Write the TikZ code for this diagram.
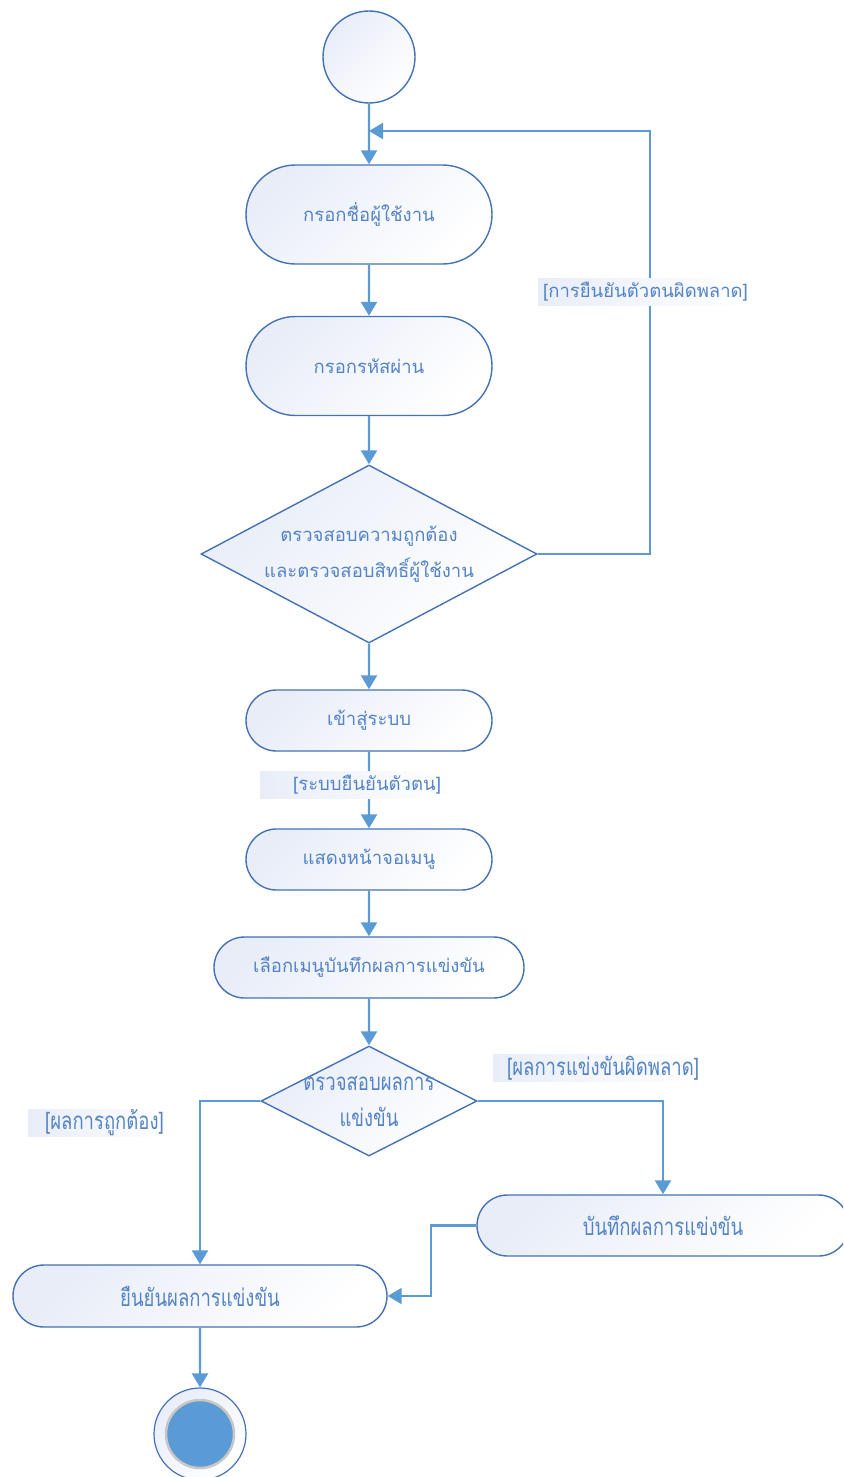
\documentclass[tikz,border=0pt]{standalone}
\usepackage{fontspec}
\usepackage{graphicx}
\usetikzlibrary{shapes.misc,shapes.geometric,arrows.meta}
\newfontfamily\thaifont[Script=Thai]{Loma}
\definecolor{lineblue}{RGB}{91,155,213}
\definecolor{edgeblue}{RGB}{68,114,180}
\definecolor{textblue}{RGB}{84,132,198}
\definecolor{shadeblue}{RGB}{232,237,248}
\newcommand{\tallthai}[1]{\scalebox{1}[1.3]{#1}}

\tikzset{
  activity/.style={rounded rectangle, draw=edgeblue, line width=1.4pt, top color=shadeblue, bottom color=white, shading angle=45, text=textblue, font=\thaifont\fontsize{18.5}{22}\selectfont, inner sep=0pt},
  decision/.style={diamond, draw=edgeblue, line width=1.4pt, top color=shadeblue, bottom color=white, shading angle=45, text=textblue, font=\thaifont\fontsize{18.5}{36}\selectfont, inner sep=0pt, align=center},
  guard/.style={anchor=west, inner xsep=0pt, inner ysep=0pt, minimum height=27pt, left color=shadeblue, right color=white, text=textblue, font=\thaifont\fontsize{18.5}{22}\selectfont},
  flow/.style={draw=lineblue, line width=2.4pt, -{Triangle[length=14pt,width=16pt]}}
}

\begin{document}
\begin{tikzpicture}[x=1pt, y=-1pt]
  \path[use as bounding box, clip] (0,0) rectangle (843,1477);

  % start node
  \node[circle, draw=edgeblue, line width=1.4pt, minimum size=92pt, top color=shadeblue, bottom color=white, shading angle=45] (start) at (369,57) {};

  % login steps
  \node[activity, minimum width=246pt, minimum height=99pt] (user) at (369,214.5) {กรอกชื่อผู้ใช้งาน};
  \node[activity, minimum width=246pt, minimum height=99pt] (pass) at (369,366) {กรอกรหัสผ่าน};
  \node[decision, minimum width=336pt, minimum height=178pt, aspect=1.89] (auth) at (369,554) {ตรวจสอบความถูกต้อง\\และตรวจสอบสิทธิ์ผู้ใช้งาน};
  \node[activity, minimum width=246pt, minimum height=61pt] (enter) at (369,720.5) {เข้าสู่ระบบ};
  \node[activity, minimum width=246pt, minimum height=61pt] (menu) at (369,859.5) {แสดงหน้าจอเมนู};
  \node[activity, minimum width=310pt, minimum height=61pt] (pick) at (369,967.5) {เลือกเมนูบันทึกผลการแข่งขัน};

  % result steps
  \node[decision, minimum width=216pt, minimum height=110pt, aspect=1.96, inner sep=-10pt] (check) at (369,1101) {\tallthai{ตรวจสอบผลการ}\\\tallthai{แข่งขัน}};
  \node[activity, minimum width=372pt, minimum height=61pt] (save) at (663,1225.5) {\tallthai{บันทึกผลการแข่งขัน}};
  \node[activity, minimum width=374pt, minimum height=62pt] (confirm) at (200,1296) {\tallthai{ยืนยันผลการแข่งขัน}};

  % end node
  \node[circle, draw=edgeblue, line width=1.2pt, minimum size=92pt, top color=shadeblue, bottom color=white, shading angle=45] (stop) at (200,1434) {};
  \node[circle, fill=lineblue, draw=black!22, line width=2.5pt, minimum size=68pt] (stopdot) at (stop) {};

  \coordinate (merge) at (369,131);
  \coordinate (back) at (650,131);
  \coordinate (jog) at (431,1260);

  % connectors
  \draw[flow] (start) -- (user);
  \draw[flow] (user) -- (pass);
  \draw[flow] (pass) -- (auth);
  \draw[flow] (auth.east) -| (back) -- (merge);
  \draw[flow] (auth) -- (enter);
  \draw[flow] (enter) -- (menu);
  \draw[flow] (menu) -- (pick);
  \draw[flow] (pick) -- (check);
  \draw[flow] (check.west) -| (confirm.north);
  \draw[flow] (check.east) -| (save.north);
  \draw[flow] (save.west) -| (jog) |- (confirm.east);
  \draw[flow] (confirm) -- (stop);

  % guards
  \node[guard] (failauth) at (538,292) {\hspace*{5pt}[การยืนยันตัวตนผิดพลาด]\hspace*{4pt}};
  \node[guard] (okauth) at (260,785) {\hspace*{33pt}[ระบบยืนยันตัวตน]\hspace*{4pt}};
  \node[guard] (failres) at (493,1068) {\hspace*{14pt}\tallthai{[ผลการแข่งขันผิดพลาด]}\hspace*{4pt}};
  \node[guard] (okres) at (28,1123) {\hspace*{17pt}\tallthai{[ผลการถูกต้อง]}\hspace*{4pt}};
\end{tikzpicture}
\end{document}
